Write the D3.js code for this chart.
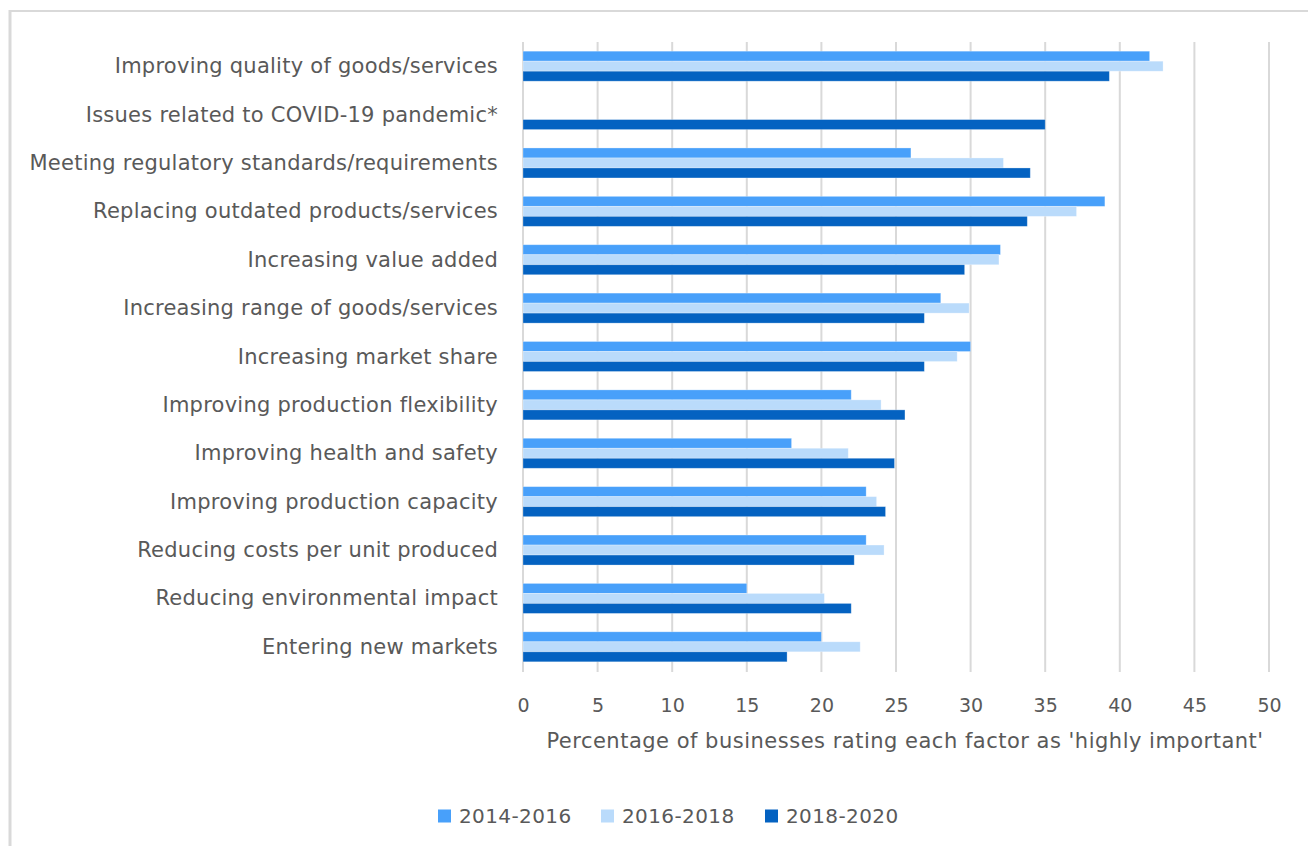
<!DOCTYPE html>
<html>
<head>
<meta charset="utf-8">
<script src="https://cdn.jsdelivr.net/npm/d3@7"></script>
<style>
  html, body { margin: 0; padding: 0; background: #fff; }
  svg { display: block; }
  text { font-family: "DejaVu Sans", "Open Sans", sans-serif; fill: #595959; }
</style>
</head>
<body>
<svg id="chart" width="1308" height="846"></svg>
<script>
const categories = [
  "Improving quality of goods/services",
  "Issues related to COVID-19 pandemic*",
  "Meeting regulatory standards/requirements",
  "Replacing outdated products/services",
  "Increasing value added",
  "Increasing range of goods/services",
  "Increasing market share",
  "Improving production flexibility",
  "Improving health and safety",
  "Improving production capacity",
  "Reducing costs per unit produced",
  "Reducing environmental impact",
  "Entering new markets"
];
const seriesNames = ["2014-2016", "2016-2018", "2018-2020"];
const values2014_2016 = [42, null, 26, 39, 32, 28, 30, 22, 18, 23, 23, 15, 20];
const values2016_2018 = [42.9, null, 32.2, 37.1, 31.9, 29.9, 29.1, 24.0, 21.8, 23.7, 24.2, 20.2, 22.6];
const values2018_2020 = [39.3, 35.0, 34.0, 33.8, 29.6, 26.9, 26.9, 25.6, 24.9, 24.3, 22.2, 22.0, 17.7];
const seriesColors = ["#48a0fa", "#badbfb", "#0462c1"];
const tickValues = [0, 5, 10, 15, 20, 25, 30, 35, 40, 45, 50];
const axisTitle = "Percentage of businesses rating each factor as 'highly important'";

const seriesValues = [values2014_2016, values2016_2018, values2018_2020];
const data = [];
categories.forEach((c, i) => {
  seriesNames.forEach((s, j) => {
    const v = seriesValues[j][i];
    if (v != null) data.push({ category: c, series: s, value: v, color: seriesColors[j] });
  });
});

const svg = d3.select("#chart");

// frame
svg.append("line").attr("x1", 9).attr("x2", 1308).attr("y1", 11).attr("y2", 11)
  .attr("stroke", "#d9d9d9").attr("stroke-width", 2);
svg.append("line").attr("x1", 10).attr("x2", 10).attr("y1", 10).attr("y2", 846)
  .attr("stroke", "#d9d9d9").attr("stroke-width", 3);

const plotTop = 42, plotBottom = 671;
const x = d3.scaleLinear().domain([0, 50]).range([523, 1269]);
const y = d3.scaleBand().domain(categories).range([plotTop, plotBottom])
  .paddingInner(0.38).paddingOuter(0.19);
const ySub = d3.scaleBand().domain(seriesNames).range([0, y.bandwidth()]);

// gridlines
svg.append("g").selectAll("line").data(tickValues).join("line")
  .attr("x1", d => x(d)).attr("x2", d => x(d))
  .attr("y1", plotTop).attr("y2", plotBottom + 1)
  .attr("stroke", "#d9d9d9").attr("stroke-width", 2);

// bars
svg.append("g").selectAll("rect").data(data).join("rect")
  .attr("x", x(0))
  .attr("y", d => y(d.category) + ySub(d.series))
  .attr("width", d => x(d.value) - x(0))
  .attr("height", ySub.bandwidth())
  .attr("fill", d => d.color)
  .attr("stroke", "#ffffff").attr("stroke-opacity", 0.35).attr("stroke-width", 0.8);

// category labels
svg.append("g").selectAll("text").data(categories).join("text")
  .attr("x", 498)
  .attr("y", d => y(d) + y.bandwidth() / 2)
  .attr("text-anchor", "end")
  .attr("dominant-baseline", "central")
  .style("font-size", "21px")
  .style("letter-spacing", "0.25px")
  .text(d => d);

// x axis tick labels
const xAxis = d3.axisBottom(x).tickValues(tickValues).tickSize(0).tickPadding(0);
const gx = svg.append("g").attr("transform", `translate(0,${697})`).call(xAxis);
gx.select(".domain").remove();
gx.selectAll("text").attr("dy", "0.35em").attr("y", 8)
  .style("font-size", "19px").style("font-family", "'DejaVu Sans', sans-serif").attr("fill", "#595959");

// axis title
svg.append("text").attr("x", 905).attr("y", 741)
  .attr("text-anchor", "middle").attr("dominant-baseline", "central")
  .style("font-size", "21px").style("letter-spacing", "0.5px").text(axisTitle);

// legend
const legendX = [438, 601, 765];
const lg = svg.append("g").selectAll("g").data(seriesNames).join("g")
  .attr("transform", (d, i) => `translate(${legendX[i]},816)`);
lg.append("rect").attr("x", 0).attr("y", -6.5).attr("width", 13).attr("height", 13)
  .attr("fill", (d, i) => seriesColors[i]);
lg.append("text").attr("x", 21).attr("y", 0).attr("dominant-baseline", "central")
  .style("font-size", "20px").style("letter-spacing", "0.4px").text(d => d);
</script>
</body>
</html>
